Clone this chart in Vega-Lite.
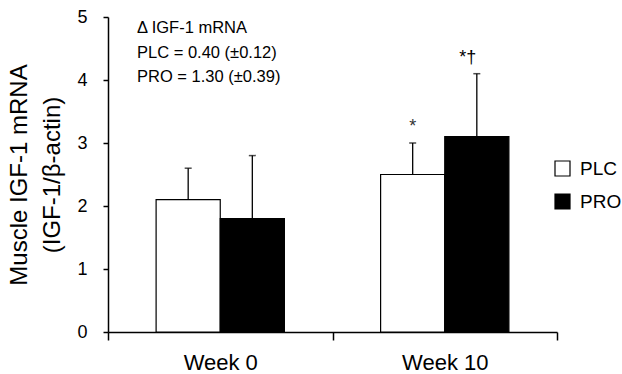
{
  "$schema": "https://vega.github.io/schema/vega-lite/v6.json",
  "width": 449,
  "height": 315,
  "autosize": {"type": "none"},
  "padding": {"left": 108, "top": 17, "right": 65, "bottom": 42},
  "background": "white",
  "config": {
    "view": {"stroke": null},
    "font": "Liberation Sans",
    "axis": {"domainColor": "black", "tickColor": "black", "labelColor": "black", "titleColor": "black", "grid": false, "domainWidth": 1.5, "tickWidth": 1.5}
  },
  "data": {"values": [
    {"week": "Week 0", "group": "PLC", "value": 2.1, "hi": 2.6, "sig": ""},
    {"week": "Week 0", "group": "PRO", "value": 1.8, "hi": 2.8, "sig": ""},
    {"week": "Week 10", "group": "PLC", "value": 2.5, "hi": 3.0, "sig": "*"},
    {"week": "Week 10", "group": "PRO", "value": 3.1, "hi": 4.1, "sig": "*†"}
  ]},
  "encoding": {
    "x": {"field": "week", "type": "nominal", "sort": ["Week 0", "Week 10"],
      "scale": {"paddingInner": 0, "paddingOuter": 0},
      "axis": {"title": null, "labelAngle": 0, "labelFontSize": 22, "tickSize": 8, "labelPadding": 12, "tickBand": "extent"}},
    "xOffset": {"field": "group", "type": "nominal", "sort": ["PLC", "PRO"], "scale": {"paddingOuter": 0.75, "paddingInner": 0}}
  },
  "layer": [
    {
      "mark": {"type": "rule", "color": "black", "strokeWidth": 1.3},
      "encoding": {
        "y": {"field": "value", "type": "quantitative"},
        "y2": {"field": "hi"}
      }
    },
    {
      "mark": {"type": "tick", "color": "black", "size": 7, "thickness": 1.5},
      "encoding": {
        "y": {"field": "hi", "type": "quantitative"}
      }
    },
    {
      "mark": {"type": "bar", "stroke": "black", "strokeWidth": 1.2},
      "encoding": {
        "y": {"field": "value", "type": "quantitative",
          "scale": {"domain": [0, 5], "nice": false},
          "axis": {"values": [0, 1, 2, 3, 4, 5], "format": "d", "labelFontSize": 18, "tickSize": 5, "labelPadding": 16,
            "title": ["Muscle IGF-1 mRNA", "(IGF-1/β-actin)"], "titleFontSize": 24, "titleFontWeight": "normal", "titleLineHeight": 33, "titlePadding": 12}},
        "fill": {"field": "group", "type": "nominal", "sort": ["PLC", "PRO"],
          "scale": {"domain": ["PLC", "PRO"], "range": ["white", "black"]},
          "legend": {"title": null, "orient": "none", "legendX": 445, "legendY": 142, "symbolType": "square", "symbolSize": 225, "symbolStrokeColor": "black", "symbolStrokeWidth": 1.2, "labelFontSize": 19, "labelOffset": 8, "rowPadding": 12, "labelColor": "black"}}
      }
    },
    {
      "transform": [{"filter": "datum.group === 'PLC'"}],
      "mark": {"type": "text", "fontSize": 18, "baseline": "alphabetic", "dy": -11, "color": "#333"},
      "encoding": {
        "y": {"field": "hi", "type": "quantitative"},
        "text": {"field": "sig"}
      }
    },
    {
      "transform": [{"filter": "datum.group === 'PRO'"}],
      "mark": {"type": "text", "fontSize": 18, "baseline": "alphabetic", "dy": -11, "dx": -9, "color": "black"},
      "encoding": {
        "y": {"field": "hi", "type": "quantitative"},
        "text": {"field": "sig"}
      }
    },
    {
      "data": {"values": [{"note": ["Δ IGF-1 mRNA", "PLC = 0.40 (±0.12)", "PRO = 1.30 (±0.39)"]}]},
      "mark": {"type": "text", "fontSize": 16.5, "align": "left", "baseline": "top", "lineHeight": 24.5, "dx": 29, "color": "black"},
      "encoding": {
        "x": {"datum": "Week 0", "bandPosition": 0},
        "y": {"datum": 4.95},
        "xOffset": null,
        "text": {"field": "note"}
      }
    }
  ]
}
